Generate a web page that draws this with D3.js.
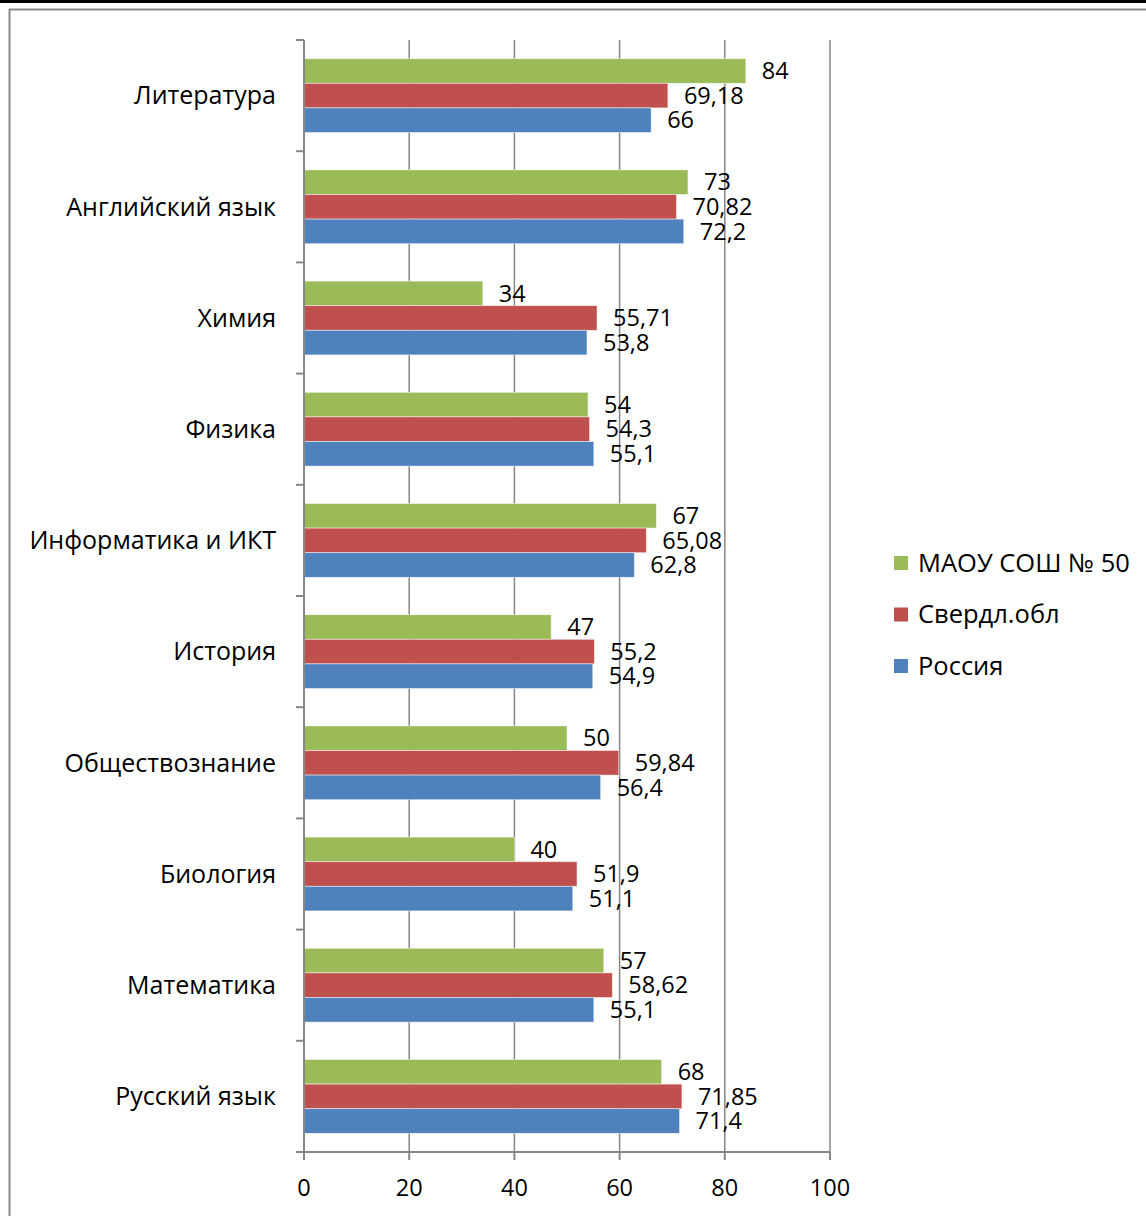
<!DOCTYPE html>
<html>
<head>
<meta charset="utf-8">
<script src="https://cdn.jsdelivr.net/npm/d3@7"></script>
<style>
    body { margin: 0; background: #fff; }
    svg { display: block; font-family: "Open Sans", "Noto Sans", sans-serif; }
</style>
</head>
<body>
<div id="chart"></div>
<script>
const subjects = ["Литература", "Английский язык", "Химия", "Физика", "Информатика и ИКТ",
    "История", "Обществознание", "Биология", "Математика", "Русский язык"];
const school = [84, 73, 34, 54, 67, 47, 50, 40, 57, 68];
const region = [69.18, 70.82, 55.71, 54.3, 65.08, 55.2, 59.84, 51.9, 58.62, 71.85];
const russia = [66, 72.2, 53.8, 55.1, 62.8, 54.9, 56.4, 51.1, 55.1, 71.4];
const seriesNames = ["МАОУ СОШ № 50", "Свердл.обл", "Россия"];
const xTicks = [0, 20, 40, 60, 80, 100];

const colors = ["#9bbb59", "#c0504d", "#4f81bd"];
const seriesValues = [school, region, russia];

const width = 1146, height = 1216;
const margin = {top: 40, left: 304, right: 316, bottom: 64};

const svg = d3.select("#chart").append("svg")
    .attr("width", width)
    .attr("height", height);

// frame remnants: black top strip, gray top & left lines
svg.append("rect").attr("x", 0).attr("y", 0).attr("width", width).attr("height", 3).attr("fill", "#000");
svg.append("line").attr("x1", 9).attr("x2", width).attr("y1", 9.5).attr("y2", 9.5)
    .attr("stroke", "#8a8a8a").attr("stroke-width", 2);
svg.append("line").attr("x1", 9.5).attr("x2", 9.5).attr("y1", 9).attr("y2", height)
    .attr("stroke", "#8a8a8a").attr("stroke-width", 2);

const x = d3.scaleLinear()
    .domain([0, 100])
    .range([margin.left, width - margin.right]);

const y = d3.scaleBand()
    .domain(subjects)
    .range([margin.top, height - margin.bottom]);

const inner = d3.scaleBand()
    .domain(d3.range(3))
    .range([0, y.bandwidth()])
    .paddingOuter(0.76);

const axisColor = "#868686";

// gridlines
svg.append("g")
    .selectAll("line")
    .data(xTicks.slice(1))
    .join("line")
    .attr("x1", d => x(d)).attr("x2", d => x(d))
    .attr("y1", margin.top).attr("y2", height - margin.bottom)
    .attr("stroke", axisColor).attr("stroke-width", 1.5);

// bars
subjects.forEach((s, i) => {
    const g = svg.append("g").attr("transform", "translate(0," + y(s) + ")");
    seriesValues.forEach((vals, k) => {
        g.append("rect")
            .attr("x", x(0))
            .attr("y", inner(k))
            .attr("width", x(vals[i]) - x(0))
            .attr("height", inner.bandwidth())
            .attr("fill", colors[k])
            .attr("stroke", "rgba(255,255,255,0.6)")
            .attr("stroke-width", 0.8);
    });
});

// value labels
const fmt = v => String(v).replace(".", ",");
subjects.forEach((s, i) => {
    seriesValues.forEach((vals, k) => {
        svg.append("text")
            .attr("x", x(vals[i]) + 16)
            .attr("y", y(s) + inner(k) + inner.bandwidth() / 2)
            .attr("dy", "0.35em")
            .attr("font-size", 23.5)
            .attr("fill", "#000")
            .text(fmt(vals[i]));
    });
});

// y axis
const yAxis = svg.append("g")
    .attr("transform", "translate(" + x(0) + ",0)");
yAxis.append("line")
    .attr("x1", 0).attr("x2", 0)
    .attr("y1", margin.top).attr("y2", height - margin.bottom + 8)
    .attr("stroke", axisColor).attr("stroke-width", 2);
yAxis.selectAll("line.tick")
    .data(subjects.map(s => y(s)).concat([height - margin.bottom]))
    .join("line")
    .attr("class", "tick")
    .attr("x1", -8).attr("x2", 0)
    .attr("y1", d => d).attr("y2", d => d)
    .attr("stroke", axisColor).attr("stroke-width", 2);
yAxis.selectAll("text")
    .data(subjects)
    .join("text")
    .attr("x", -28)
    .attr("y", d => y(d) + y.bandwidth() / 2)
    .attr("dy", "0.35em")
    .attr("text-anchor", "end")
    .attr("font-size", 25)
    .attr("fill", "#000")
    .text(d => d);

// x axis
const xAxis = svg.append("g")
    .attr("transform", "translate(0," + (height - margin.bottom) + ")");
xAxis.append("line")
    .attr("x1", x(0) - 8).attr("x2", x(100))
    .attr("stroke", axisColor).attr("stroke-width", 2);
xAxis.selectAll("line.tick")
    .data(xTicks)
    .join("line")
    .attr("class", "tick")
    .attr("x1", d => x(d)).attr("x2", d => x(d))
    .attr("y1", 0).attr("y2", 8)
    .attr("stroke", axisColor).attr("stroke-width", 2);
xAxis.selectAll("text")
    .data(xTicks)
    .join("text")
    .attr("x", d => x(d))
    .attr("y", 36)
    .attr("dy", "0.35em")
    .attr("text-anchor", "middle")
    .attr("font-size", 23.5)
    .attr("fill", "#000")
    .text(d => d);

// legend
const legend = svg.append("g").attr("transform", "translate(894,563)");
seriesNames.forEach((name, k) => {
    const row = legend.append("g").attr("transform", "translate(0," + k * 51.5 + ")");
    row.append("rect")
        .attr("x", 0).attr("y", -7)
        .attr("width", 14).attr("height", 14)
        .attr("fill", colors[k]);
    row.append("text")
        .attr("x", 24)
        .attr("dy", "0.35em")
        .attr("font-size", 25.5)
        .attr("fill", "#000")
        .text(name);
});
</script>
</body>
</html>
